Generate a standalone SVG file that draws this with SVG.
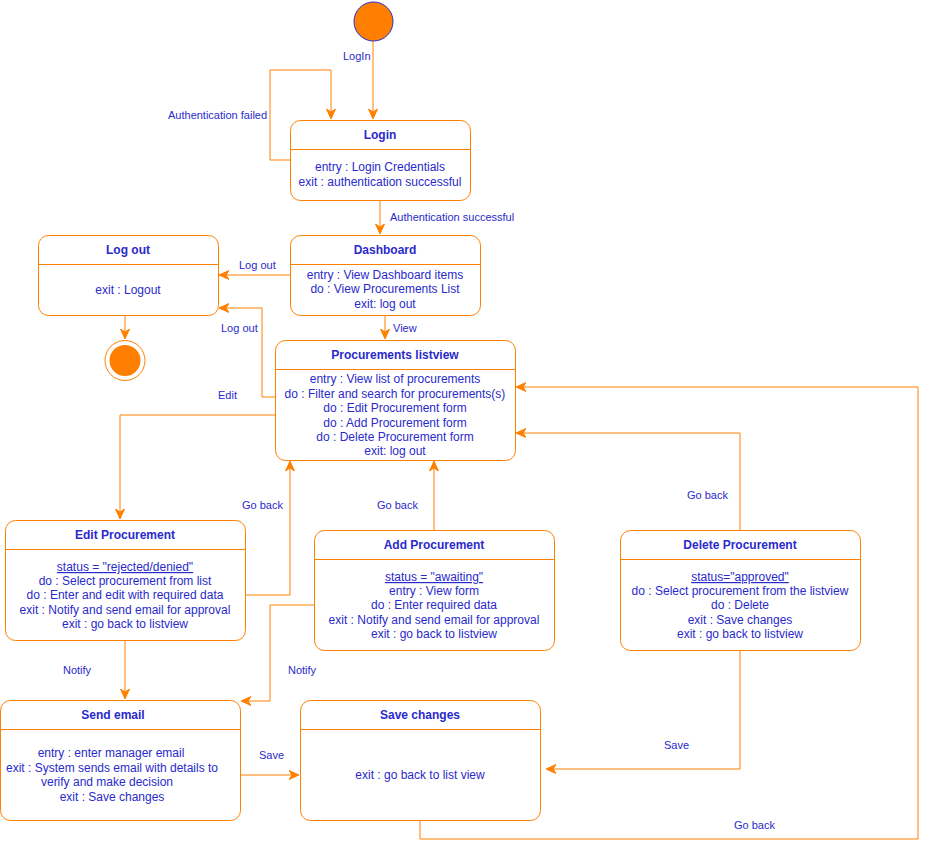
<svg xmlns="http://www.w3.org/2000/svg" width="927" height="849" viewBox="0 0 927 849">
  <style>
    text { font-family: "Liberation Sans", Arial, sans-serif; fill: #2a2acc; }
    .title { font-size: 12px; font-weight: bold; text-anchor: middle; }
    .body { font-size: 12px; text-anchor: middle; }
    .lbl { font-size: 11px; }
    .box { fill: #ffffff; stroke: #ff8000; stroke-width: 1; }
    .sep { stroke: #ff8000; stroke-width: 1; }
    .edge { fill: none; stroke: #ff8000; stroke-width: 1; marker-end: url(#arr); }
    .u { text-decoration: underline; }
  </style>
  <defs>
    <marker id="arr" viewBox="0 0 10 10" refX="9" refY="5" markerWidth="10" markerHeight="10" markerUnits="userSpaceOnUse" orient="auto">
      <path d="M0,0.5 L10,5 L0,9.5 L3,5 Z" fill="#ff8000" stroke="#ff8000" stroke-width="1"/>
    </marker>
  </defs>

  <rect width="927" height="849" fill="#ffffff"/>

  <!-- connectors -->
  <g id="connectors">
    <path class="edge" d="M373,41 V118"/>
    <path class="edge" d="M290,160 H270 V70 H331 V118"/>
    <path class="edge" d="M380,200 V233"/>
    <path class="edge" d="M290,275 H220"/>
    <path class="edge" d="M125,315 V338"/>
    <path class="edge" d="M385,315 V338"/>
    <path class="edge" d="M275,397 H262 V308 H220"/>
    <path class="edge" d="M275,415 H120 V518"/>
    <path class="edge" d="M245,595 H290 V462"/>
    <path class="edge" d="M434,530 V462"/>
    <path class="edge" d="M740,530 V433 H517"/>
    <path class="edge" d="M125,640 V698"/>
    <path class="edge" d="M314,605 H270 V701 H242"/>
    <path class="edge" d="M740,650 V769 H547"/>
    <path class="edge" d="M240,775 H298"/>
    <path class="edge" d="M420,820 V839 H918 V387 H517"/>

    <text class="lbl" x="343" y="60">LogIn</text>
    <text class="lbl" x="168" y="119">Authentication failed</text>
    <text class="lbl" x="390" y="221">Authentication successful</text>
    <text class="lbl" x="239" y="269">Log out</text>
    <text class="lbl" x="221" y="332">Log out</text>
    <text class="lbl" x="393" y="332">View</text>
    <text class="lbl" x="218" y="399">Edit</text>
    <text class="lbl" x="242" y="509">Go back</text>
    <text class="lbl" x="377" y="509">Go back</text>
    <text class="lbl" x="687" y="499">Go back</text>
    <text class="lbl" x="63" y="674">Notify</text>
    <text class="lbl" x="288" y="674">Notify</text>
    <text class="lbl" x="664" y="749">Save</text>
    <text class="lbl" x="259" y="759">Save</text>
    <text class="lbl" x="734" y="829">Go back</text>
  </g>

  <!-- initial state -->
  <g id="start">
    <circle cx="373.5" cy="21.5" r="19.5" fill="#ff8000" stroke="#2a2acc" stroke-width="1"/>
  </g>

  <!-- final state -->
  <g id="end">
    <circle cx="125" cy="360.5" r="20" fill="#ffffff" stroke="#ff8000" stroke-width="1"/>
    <circle cx="125" cy="360.5" r="15.5" fill="#ff8000"/>
  </g>

  <g id="login">
    <rect class="box" x="290.5" y="120.5" width="180" height="80" rx="10"/>
    <line class="sep" x1="290.5" y1="149.5" x2="470.5" y2="149.5"/>
    <text class="title" x="380" y="139">Login</text>
    <text class="body" x="380" y="171">entry : Login Credentials</text>
    <text class="body" x="380" y="186">exit : authentication successful</text>
  </g>

  <g id="dashboard">
    <rect class="box" x="290.5" y="235.5" width="190" height="80" rx="10"/>
    <line class="sep" x1="290.5" y1="264.5" x2="480.5" y2="264.5"/>
    <text class="title" x="385" y="254">Dashboard</text>
    <text class="body" x="385" y="279">entry : View Dashboard items</text>
    <text class="body" x="385" y="293">do : View Procurements List</text>
    <text class="body" x="385" y="308">exit: log out</text>
  </g>

  <g id="logout">
    <rect class="box" x="38.5" y="235.5" width="180" height="80" rx="10"/>
    <line class="sep" x1="38.5" y1="264.5" x2="218.5" y2="264.5"/>
    <text class="title" x="128" y="254">Log out</text>
    <text class="body" x="128" y="294">exit : Logout</text>
  </g>

  <g id="listview">
    <rect class="box" x="275.5" y="340.5" width="240" height="120" rx="10"/>
    <line class="sep" x1="275.5" y1="369.5" x2="515.5" y2="369.5"/>
    <text class="title" x="395" y="359">Procurements listview</text>
    <text class="body" x="395" y="383">entry : View list of procurements</text>
    <text class="body" x="395" y="398">do : Filter and search for procurements(s)</text>
    <text class="body" x="395" y="412">do : Edit Procurement form</text>
    <text class="body" x="395" y="427">do : Add Procurement form</text>
    <text class="body" x="395" y="441">do : Delete Procurement form</text>
    <text class="body" x="395" y="455">exit: log out</text>
  </g>

  <g id="edit">
    <rect class="box" x="5.5" y="520.5" width="240" height="120" rx="10"/>
    <line class="sep" x1="5.5" y1="549.5" x2="245.5" y2="549.5"/>
    <text class="title" x="125" y="539">Edit Procurement</text>
    <text class="body u" x="125" y="571">status = "rejected/denied"</text>
    <text class="body" x="125" y="585">do : Select procurement from list</text>
    <text class="body" x="125" y="599">do : Enter and edit with required data</text>
    <text class="body" x="125" y="614">exit : Notify and send email for approval</text>
    <text class="body" x="125" y="628">exit : go back to listview</text>
  </g>

  <g id="add">
    <rect class="box" x="314.5" y="530.5" width="240" height="120" rx="10"/>
    <line class="sep" x1="314.5" y1="559.5" x2="554.5" y2="559.5"/>
    <text class="title" x="434" y="549">Add Procurement</text>
    <text class="body u" x="434" y="581">status = "awaiting"</text>
    <text class="body" x="434" y="595">entry : View form</text>
    <text class="body" x="434" y="609">do : Enter required data</text>
    <text class="body" x="434" y="624">exit : Notify and send email for approval</text>
    <text class="body" x="434" y="638">exit : go back to listview</text>
  </g>

  <g id="delete">
    <rect class="box" x="620.5" y="530.5" width="240" height="120" rx="10"/>
    <line class="sep" x1="620.5" y1="559.5" x2="860.5" y2="559.5"/>
    <text class="title" x="740" y="549">Delete Procurement</text>
    <text class="body u" x="740" y="581">status="approved"</text>
    <text class="body" x="740" y="595">do : Select procurement from the listview</text>
    <text class="body" x="740" y="609">do : Delete</text>
    <text class="body" x="740" y="624">exit : Save changes</text>
    <text class="body" x="740" y="638">exit : go back to listview</text>
  </g>

  <g id="sendemail">
    <rect class="box" x="0.5" y="700.5" width="240" height="120" rx="10"/>
    <line class="sep" x1="0.5" y1="729.5" x2="240.5" y2="729.5"/>
    <text class="title" x="113" y="719">Send email</text>
    <text class="body" x="111" y="757">entry : enter manager email</text>
    <text class="body" x="112" y="772">exit : System sends email with details to</text>
    <text class="body" x="107" y="786">verify and make decision</text>
    <text class="body" x="112" y="801">exit : Save changes</text>
  </g>

  <g id="savechanges">
    <rect class="box" x="300.5" y="700.5" width="240" height="120" rx="10"/>
    <line class="sep" x1="300.5" y1="729.5" x2="540.5" y2="729.5"/>
    <text class="title" x="420" y="719">Save changes</text>
    <text class="body" x="420" y="779">exit : go back to list view</text>
  </g>
</svg>
